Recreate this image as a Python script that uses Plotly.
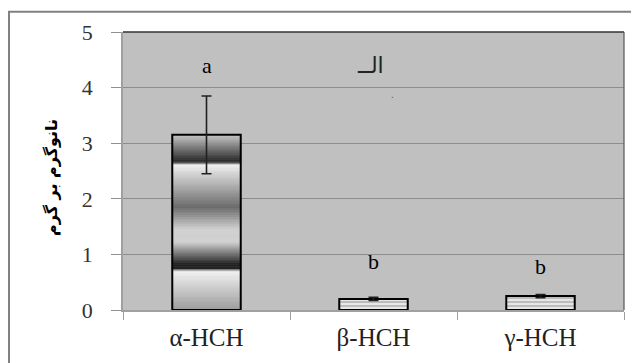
import numpy as np
import plotly.graph_objects as go

# ---- data ----
categories = ["α-HCH", "β-HCH", "γ-HCH"]
means = [3.15, 0.20, 0.25]
errors = [0.70, 0.03, 0.03]
letters = ["a", "b", "b"]
letter_y = [4.4, 0.87, 0.78]
y_ticks = [0, 1, 2, 3, 4, 5]
y_title = "نانوگرم بر گرم"
stray_text = "الــ"

SERIF = "Liberation Serif, Times New Roman, Times, serif"

# ---- style: chrome-like vertical gradient for the first bar ----
stop_t = [0.0, 0.144, 0.158, 0.173, 0.413, 0.54, 0.615, 0.74, 0.765, 0.78, 1.0]
stop_g = [0.80, 0.19, 0.19, 0.95, 0.42, 0.82, 0.82, 0.14, 0.14, 0.95, 0.62]
n_slices = 100

fig = go.Figure()

# gradient slices (top -> bottom)
h = means[0] / n_slices
t_mid = (np.arange(n_slices) + 0.5) / n_slices  # from top
g = np.interp(t_mid, stop_t, stop_g)
cols = [f"rgb({int(v*255)},{int(v*255)},{int(v*255)})" for v in g]
bases = [means[0] - (i + 1) * h for i in range(n_slices)]
fig.add_trace(go.Bar(
    x=[categories[0]] * n_slices, y=[h] * n_slices, base=bases,
    marker=dict(color=cols, line=dict(color=cols, width=0.6)),
    hoverinfo="skip", showlegend=False,
))

# striped bars
fig.add_trace(go.Bar(
    x=categories[1:], y=means[1:],
    marker=dict(color="#e6e6e6",
                pattern=dict(shape="-", fgcolor="#707070", bgcolor="#e6e6e6",
                             size=4, solidity=0.35),
                line=dict(width=0)),
    showlegend=False,
))

# outlines + error bars
fig.add_trace(go.Bar(
    x=categories, y=means,
    marker=dict(color="rgba(0,0,0,0)", line=dict(color="black", width=2)),
    error_y=dict(type="data", array=errors, visible=True,
                 color="#202020", thickness=1.6, width=5),
    showlegend=False,
))

# significance letters
for c, l, yy in zip(categories, letters, letter_y):
    fig.add_annotation(x=c, y=yy, text=l, showarrow=False,
                       font=dict(family=SERIF, size=22, color="black"))

fig.add_annotation(x=categories[1], y=4.4, xshift=-3, text=stray_text, showarrow=False,
                   font=dict(family="DejaVu Sans", size=22, color="#222"))
fig.add_annotation(x=categories[1], y=3.85, xshift=19, text=".", showarrow=False,
                   font=dict(family="DejaVu Sans", size=8, color="#444"))

# y title
fig.add_annotation(xref="paper", yref="paper", x=-0.166, y=0.476,
                   text=f"<b>{y_title}</b>", textangle=-90, showarrow=False,
                   font=dict(family="DejaVu Sans", size=16, color="black"))

# outer frame and top/right plot border
fig.add_shape(type="rect", xref="paper", yref="paper",
              x0=-0.2275, y0=-0.25, x1=1.05, y1=1.0727,
              line=dict(color="#808080", width=2), layer="below")
fig.add_shape(type="line", xref="paper", yref="paper", x0=0, x1=1, y0=1, y1=1,
              line=dict(color="#333333", width=1.5))
fig.add_shape(type="line", xref="paper", yref="paper", x0=1, x1=1, y0=0, y1=1,
              line=dict(color="#555555", width=1.2))

fig.update_layout(
    width=631, height=355,
    margin=dict(l=115, r=15, t=22, b=50),
    paper_bgcolor="white", plot_bgcolor="#c0c0c0",
    barmode="overlay", bargap=0.59,
    font=dict(family=SERIF, color="black"),
)
fig.update_yaxes(range=[0, 5], tickvals=y_ticks, ticks="outside", ticklen=10,
                 tickcolor="#909090", showline=True, linecolor="#a0a0a0",
                 linewidth=1.5, gridcolor="#8c8c8c", gridwidth=1,
                 tickfont=dict(family=SERIF, size=22, color="#333"),
                 ticklabelstandoff=14, zeroline=False)
fig.update_xaxes(ticks="outside", ticklen=8, tickcolor="#a0a0a0",
                 tickson="boundaries", showline=True, linecolor="#a0a0a0",
                 linewidth=1.5,
                 tickfont=dict(family=SERIF, size=25, color="#222"),
                 ticklabelstandoff=4)

fig.write_html("out.html")
